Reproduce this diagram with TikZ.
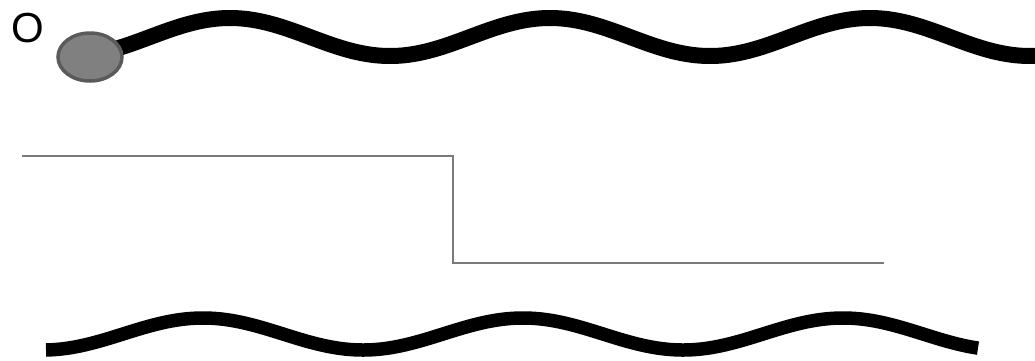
\documentclass[tikz,border=0pt]{standalone}
\usepackage{fontspec}
\setmainfont{Liberation Sans}
\usetikzlibrary{shapes.geometric}
\definecolor{blobfill}{HTML}{808080}
\definecolor{blobline}{HTML}{5A5A5A}
\definecolor{stepgray}{HTML}{7A7A7A}
\tikzset{
  wave/.style={line width=16pt, black, line cap=butt},
  wavethin/.style={line width=13.5pt, black, line cap=butt},
  stepline/.style={line width=1.8pt, stepgray},
  blob/.style={ellipse, minimum width=64pt, minimum height=48pt, fill=blobfill, draw=blobline, line width=3.5pt, inner sep=0pt},
  letter/.style={inner sep=0pt, font=\fontsize{42}{42}\selectfont}
}
\begin{document}
\begin{tikzpicture}[x=1pt,y=-1pt]
\useasboundingbox (0,0) rectangle (1035,360);
% top wave
\draw[wave] plot[domain=115:1035, samples=300, smooth] (\x, {37 - 19*cos(1.125*(\x-230))});
% blob and label
\node[blob] (blob) at (90,57) {};
\node[letter] (o) at (28,28) {O};
% step line
\coordinate (s1) at (22,156);
\coordinate (s2) at (453,156);
\coordinate (s3) at (453,263);
\coordinate (s4) at (884,263);
\draw[stepline] (s1) -- (s2) -- (s3) -- (s4);
% bottom wave
\draw[wavethin] plot[domain=46:978, samples=300, smooth] (\x, {334 - 16*cos(1.125*(\x-203))});
\end{tikzpicture}
\end{document}
